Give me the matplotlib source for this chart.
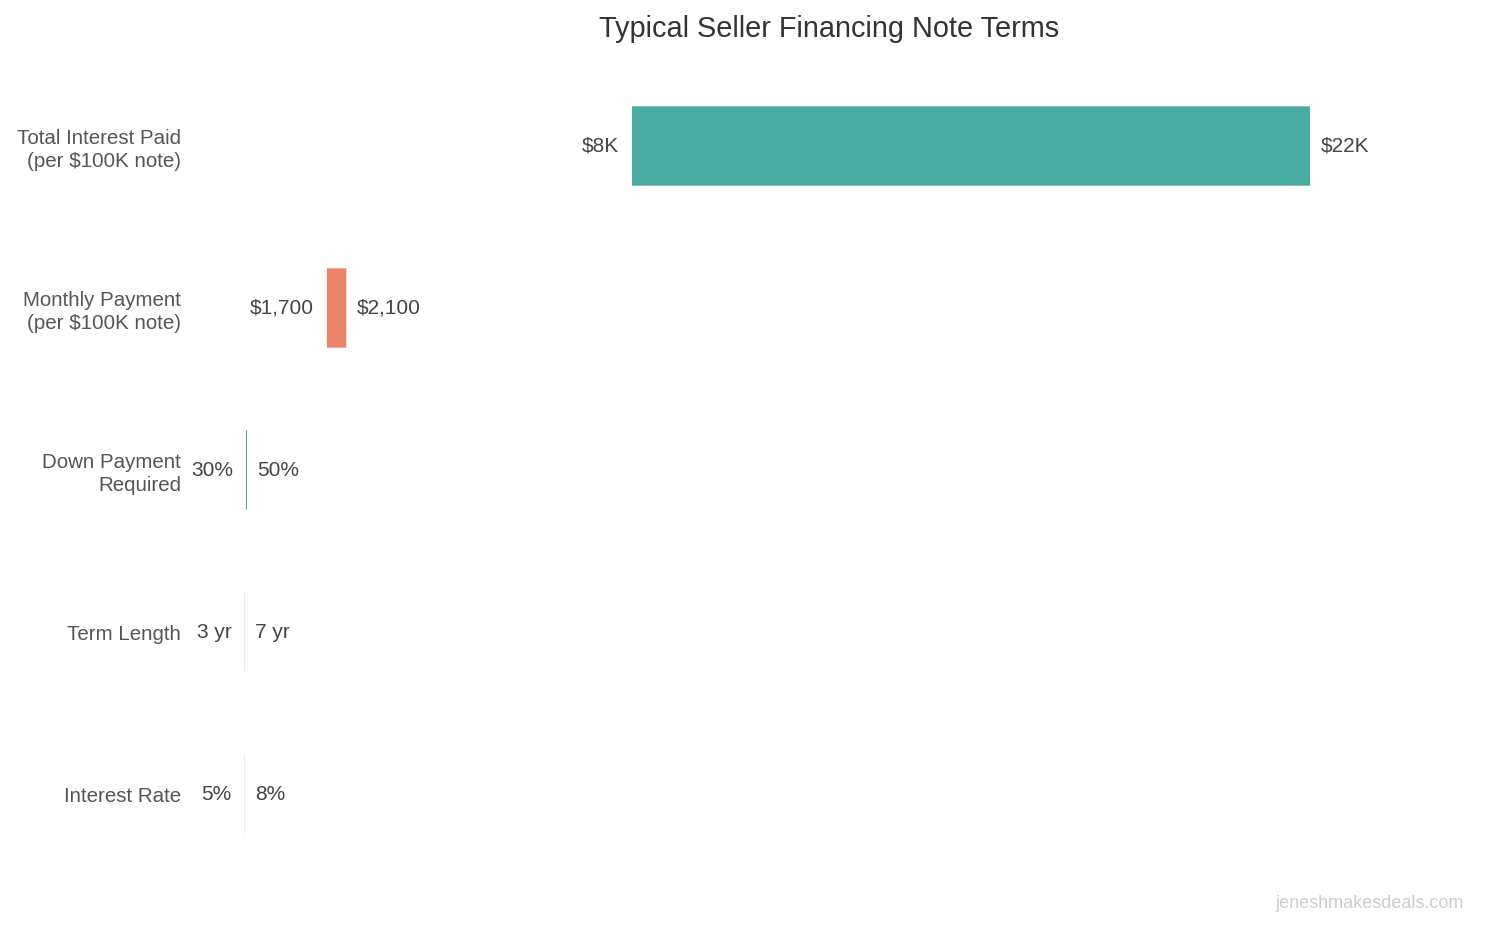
import matplotlib.pyplot as plt

plt.rcParams['font.family'] = ['Liberation Sans', 'DejaVu Sans']

# rows from bottom to top
categories = ["Interest Rate", "Term Length", "Down Payment\nRequired",
              "Monthly Payment\n(per $100K note)", "Total Interest Paid\n(per $100K note)"]
low_values = [5, 3, 30, 1700, 8000]
high_values = [8, 7, 50, 2100, 22000]
low_labels = ["5%", "3 yr", "30%", "$1,700", "$8K"]
high_labels = ["8%", "7 yr", "50%", "$2,100", "$22K"]
colors = ["#4aaba0", "#ec846c", "#4aaba0", "#ec846c", "#4aaba0"]

fig = plt.figure(figsize=(14.85, 9.27), dpi=100)
ax = fig.add_axes([192 / 1485, 52 / 927, 1274 / 1485, 810 / 927])

widths = [h - l for l, h in zip(low_values, high_values)]
bars = ax.barh(range(len(categories)), widths, left=low_values, height=0.49, color=colors)
for b in bars:
    b.set_snap(False)
    b.set_linewidth(0)

for i, (lo, hi) in enumerate(zip(low_values, high_values)):
    ax.annotate(low_labels[i], (lo, i), xytext=(-9.5, 0), textcoords="offset points",
                ha="right", va="center", fontsize=15, color="#444444")
    ax.annotate(high_labels[i], (hi, i), xytext=(7.5, 0), textcoords="offset points",
                ha="left", va="center", fontsize=15, color="#444444")

ax.set_xlim(-1086, 25220)
ax.set_ylim(-0.5, len(categories) - 0.5)
ax.set_yticks(range(len(categories)))
ax.set_yticklabels(categories, fontsize=14.8, color="#555555", linespacing=1.25)
ax.tick_params(axis="y", length=0, pad=8)
ax.set_xticks([])
for s in ax.spines.values():
    s.set_visible(False)

fig.text(829 / 1485, 1 - 29 / 927, "Typical Seller Financing Note Terms",
         ha="center", va="center", fontsize=20.8, color="#333333")
fig.text(1464 / 1485, 1 - 904 / 927, "jeneshmakesdeals.com",
         ha="right", va="center", fontsize=13, color="#cccccc")

fig.savefig("out.png", dpi=100)
